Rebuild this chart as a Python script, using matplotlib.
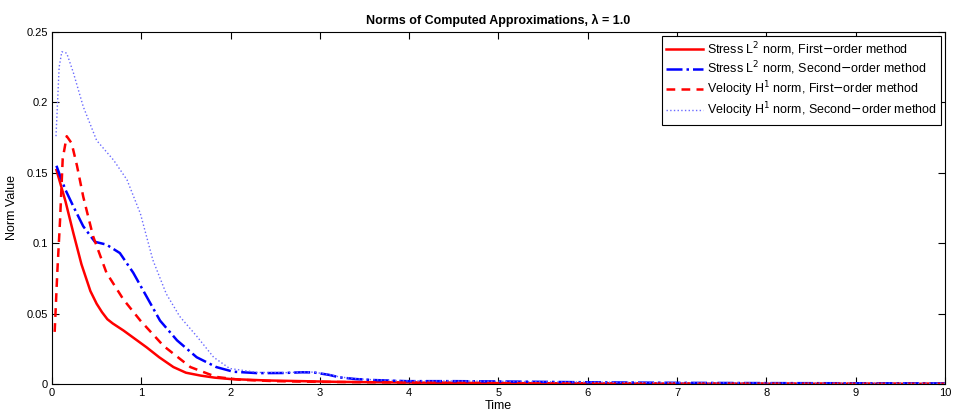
import numpy as np
import matplotlib.pyplot as plt

plt.rcParams['font.family'] = ['Liberation Sans', 'DejaVu Sans']

# values
t_s1 = [0.05, 0.15, 0.24, 0.33, 0.43, 0.5, 0.56, 0.62, 0.68, 0.8, 0.93, 1.06, 1.2, 1.36, 1.5, 1.66, 1.82, 2.0, 2.4, 2.8, 3.2, 4.0, 5.0, 6.0, 8.0, 10.0]
v_s1 = [0.152, 0.13, 0.107, 0.085, 0.066, 0.057, 0.051, 0.046, 0.043, 0.038, 0.032, 0.026, 0.019, 0.012, 0.008, 0.006, 0.0045, 0.0035, 0.0025, 0.002, 0.0015, 0.001, 0.0006, 0.0004, 0.0002, 0.0001]

t_s2 = [0.05, 0.09, 0.15, 0.24, 0.35, 0.48, 0.61, 0.76, 0.91, 1.06, 1.21, 1.4, 1.62, 1.84, 2.03, 2.3, 2.6, 2.8, 2.93, 3.1, 3.22, 3.4, 3.6, 3.97, 4.5, 5.0, 5.5, 6.0, 7.0, 8.0, 9.0, 10.0]
v_s2 = [0.155, 0.148, 0.138, 0.126, 0.112, 0.101, 0.099, 0.093, 0.079, 0.062, 0.045, 0.031, 0.019, 0.012, 0.0087, 0.0077, 0.0078, 0.0083, 0.0082, 0.0065, 0.0047, 0.0035, 0.0028, 0.002, 0.002, 0.0018, 0.0015, 0.0012, 0.0008, 0.0006, 0.0005, 0.0004]

t_v1 = [0.03, 0.06, 0.09, 0.12, 0.165, 0.22, 0.28, 0.35, 0.46, 0.61, 0.8, 0.99, 1.25, 1.55, 1.84, 2.1, 2.5, 3.0, 4.0, 5.0, 6.0, 8.0, 10.0]
v_v1 = [0.037, 0.08, 0.116, 0.16, 0.176, 0.171, 0.155, 0.133, 0.105, 0.079, 0.060, 0.045, 0.027, 0.012, 0.005, 0.003, 0.002, 0.0015, 0.001, 0.0006, 0.0004, 0.0002, 0.0001]

t_v2 = [0.045, 0.08, 0.11, 0.165, 0.24, 0.35, 0.5, 0.69, 0.84, 0.99, 1.13, 1.28, 1.43, 1.62, 1.81, 1.99, 2.3, 2.6, 2.8, 2.93, 3.1, 3.22, 3.4, 3.6, 3.97, 4.5, 5.0, 5.5, 6.0, 7.0, 8.0, 9.0, 10.0]
v_v2 = [0.176, 0.225, 0.236, 0.235, 0.221, 0.197, 0.173, 0.159, 0.145, 0.121, 0.088, 0.064, 0.048, 0.034, 0.019, 0.011, 0.0082, 0.008, 0.0085, 0.0084, 0.0067, 0.005, 0.0037, 0.003, 0.0022, 0.0021, 0.0019, 0.0016, 0.0013, 0.0009, 0.0007, 0.0006, 0.0005]

fig = plt.figure(figsize=(9.54, 4.16), dpi=100)
ax = fig.add_axes([0.0545, 0.077, 0.936, 0.846])

ax.plot(t_s1, v_s1, 'r-', lw=1.8, label=r'Stress L$^2$ norm, First$-$order method')
ax.plot(t_s2, v_s2, 'b-.', lw=1.8, label=r'Stress L$^2$ norm, Second$-$order method')
ax.plot(t_v1, v_v1, 'r--', lw=1.8, dashes=(3.5, 2.5), label=r'Velocity H$^1$ norm, First$-$order method')
ax.plot(t_v2, v_v2, ':', color='#6a6aff', lw=1.0, label=r'Velocity H$^1$ norm, Second$-$order method')

ax.set_xlim(0, 10)
ax.set_ylim(0, 0.25)
ax.set_xticks(np.arange(0, 11, 1))
ax.set_yticks([0, 0.05, 0.1, 0.15, 0.2, 0.25])
ax.set_yticklabels(['0', '0.05', '0.1', '0.15', '0.2', '0.25'])
ax.tick_params(direction='in', top=True, right=True, labelsize=8, length=5, pad=3)
ax.set_xlabel('Time', fontsize=9, labelpad=1)
ax.set_ylabel('Norm Value', fontsize=9, labelpad=6)
ax.set_title('Norms of Computed Approximations, λ = 1.0', fontsize=9, fontweight='bold', pad=6)

leg = ax.legend(loc='upper right', fontsize=9, fancybox=False, framealpha=1,
                edgecolor='black', borderaxespad=0.3, handlelength=3, handletextpad=0.3,
                labelspacing=0.15, borderpad=0.35)
leg.get_frame().set_linewidth(0.8)

fig.savefig('out.png', dpi=100)
